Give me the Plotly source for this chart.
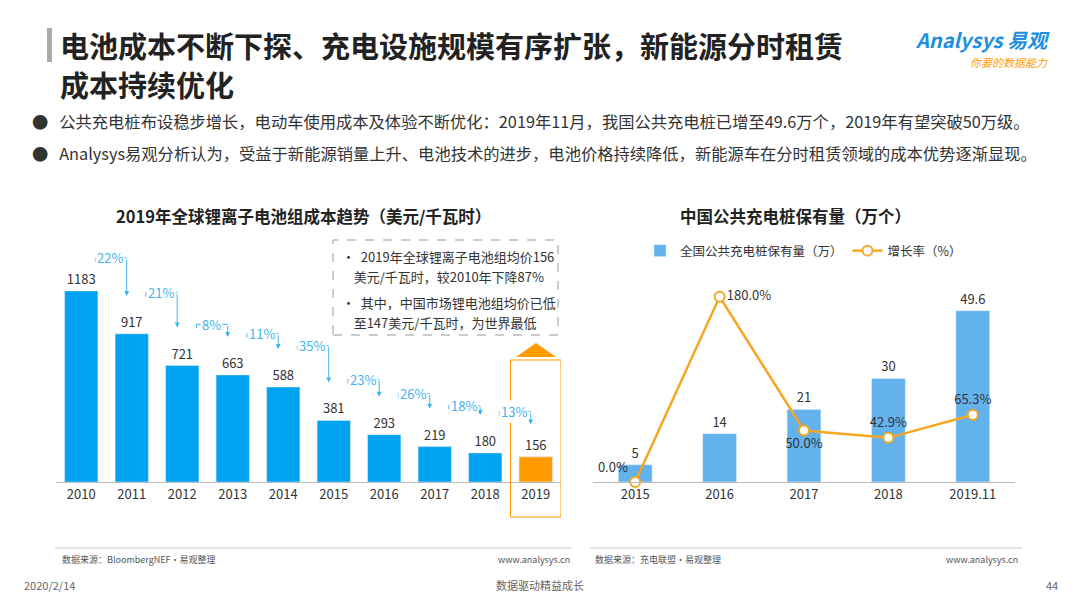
import plotly.graph_objects as go

years = ["2010","2011","2012","2013","2014","2015","2016","2017","2018","2019"]
cost = [1183, 917, 721, 663, 588, 381, 293, 219, 180, 156]
drops = ["22%","21%","8%","11%","35%","23%","26%","18%","13%"]

pile_years = ["2015","2016","2017","2018","2019.11"]
piles = [5, 14, 21, 30, 49.6]
growth = [0.0, 180.0, 50.0, 42.9, 65.3]
growth_pos = ["top left", "middle right", "bottom center", "top center", "top center"]

F = "Noto Sans CJK SC"
fig = go.Figure()
fig.add_bar(x=list(range(10)), y=cost, xaxis="x", yaxis="y",
            marker_color=["#00a3f0"]*9 + ["#ff9a00"], width=0.66,
            text=[str(v) for v in cost], textposition="outside",
            textfont=dict(size=13, color="#333", family=F), cliponaxis=False, showlegend=False)
fig.add_bar(x=pile_years, y=piles, xaxis="x2", yaxis="y2", name="全国公共充电桩保有量（万）",
            marker_color="#63b2ee", width=0.4,
            text=[str(v) for v in piles], textposition="outside",
            textfont=dict(size=13, color="#333", family=F), cliponaxis=False)
fig.add_scatter(x=pile_years, y=growth, xaxis="x2", yaxis="y3", name="增长率（%）",
                mode="lines+markers+text", line=dict(color="#f5a623", width=2.5),
                marker=dict(size=10, color="white", line=dict(color="#f5a623", width=2)),
                text=[f"{g:.1f}%" for g in growth], textposition=growth_pos,
                textfont=dict(size=13, color="#333", family=F), cliponaxis=False)

shapes, anns = [], []
blue = "#3fb3f0"
for i, d in enumerate(drops):
    top = cost[i] + (205 if i == 0 else 255)
    tip = cost[i+1] + (200 if i == 8 else 235)
    shapes.append(dict(type="line", xref="x", yref="y", x0=i+0.28, x1=i+0.9, y0=top, y1=top,
                       line=dict(color=blue, width=1)))
    shapes.append(dict(type="line", xref="x", yref="y", x0=i+0.28, x1=i+0.28, y0=top, y1=top-25,
                       line=dict(color=blue, width=1)))
    anns.append(dict(xref="x", yref="y", x=i+0.9, y=tip, ax=i+0.9, ay=top, axref="x", ayref="y",
                     showarrow=True, arrowhead=2, arrowsize=1, arrowwidth=1, arrowcolor=blue, text=""))
    anns.append(dict(xref="x", yref="y", x=i+0.57, y=top, text=d, showarrow=False, bgcolor="white",
                     font=dict(size=13, color=blue, family=F)))

shapes.append(dict(type="rect", xref="x", yref="paper", x0=8.5, x1=9.5, y0=1-517/608, y1=1-360/608,
                   line=dict(color="#ff9a00", width=1)))
shapes.append(dict(type="path", xref="paper", yref="paper",
                   path=f"M {516/1080} {1-357/608} L {556/1080} {1-357/608} L {536/1080} {1-343/608} Z",
                   fillcolor="#ff9a00", line=dict(width=0)))
shapes.append(dict(type="rect", xref="paper", yref="paper", x0=333/1080, x1=558/1080, y0=1-335/608, y1=1-240/608,
                   line=dict(color="#999", width=1, dash="dash")))

def T(x, y, s, size, color="#333", anchor="left", bold=False):
    anns.append(dict(xref="paper", yref="paper", x=x/1080, y=1-y/608, text=f"<b>{s}</b>" if bold else s,
                     showarrow=False, xanchor=anchor, yanchor="middle", font=dict(size=size, color=color, family=F)))

for y, s in [(256, "•  2019年全球锂离子电池组均价156"), (276, "    美元/千瓦时，较2010年下降87%"),
             (302, "•  其中，中国市场锂电池组均价已低"), (322, "    至147美元/千瓦时，为世界最低")]:
    T(340, y, s, 13)

shapes.append(dict(type="rect", xref="paper", yref="paper", x0=47/1080, x1=52/1080, y0=1-62/608, y1=1-28/608,
                   fillcolor="#aaaaaa", line=dict(width=0)))
T(58, 45, "电池成本不断下探、充电设施规模有序扩张，新能源分时租赁", 29, "#222", bold=True)
T(58, 84, "成本持续优化", 29, "#222", bold=True)
T(30, 121, "●   公共充电桩布设稳步增长，电动车使用成本及体验不断优化：2019年11月，我国公共充电桩已增至49.6万个，2019年有望突破50万级。", 16.3)
T(30, 153, "●   Analysys易观分析认为，受益于新能源销量上升、电池技术的进步，电池价格持续降低，新能源车在分时租赁领域的成本优势逐渐显现。", 16.3)
T(303, 216, "2019年全球锂离子电池组成本趋势（美元/千瓦时）", 16.5, "#222", "center", True)
T(795, 216, "中国公共充电桩保有量（万个）", 16.5, "#222", "center", True)
T(60, 559, "数据来源：BloombergNEF·易观整理", 9, "#555")
T(572, 559, "www.analysys.cn", 9, "#555", "right")
T(593, 559, "数据来源：充电联盟·易观整理", 9, "#555")
T(1020, 559, "www.analysys.cn", 9, "#555", "right")
T(22, 585, "2020/2/14", 11, "#666")
T(540, 585, "数据驱动精益成长", 11, "#666", "center")
T(1060, 585, "44", 11, "#666", "right")
T(1052, 40, "<i>Analysys 易观</i>", 20, "#1e8fe0", "right", True)
T(1050, 62, "<i>你要的数据能力</i>", 11, "#ff9a00", "right")
shapes.append(dict(type="line", xref="paper", yref="paper", x0=55/1080, x1=572/1080, y0=1-548/608, y1=1-548/608,
                   line=dict(color="#ccc", width=1)))
shapes.append(dict(type="line", xref="paper", yref="paper", x0=590/1080, x1=1022/1080, y0=1-548/608, y1=1-548/608,
                   line=dict(color="#ccc", width=1)))

ax = dict(showgrid=False, zeroline=False, ticks="", showline=True, linecolor="#bbb",
          tickfont=dict(size=13, color="#333", family=F))
fig.update_layout(
    width=1080, height=608, margin=dict(l=0, r=0, t=0, b=0), plot_bgcolor="white", paper_bgcolor="white",
    xaxis=dict(ax, domain=[56/1080, 561/1080], tickvals=list(range(10)), ticktext=years, range=[-0.5, 9.5]),
    yaxis=dict(domain=[1-482/608, 1-240/608], range=[0, 1498], visible=False),
    xaxis2=dict(ax, domain=[593/1080, 1015/1080], anchor="y2", type="category"),
    yaxis2=dict(domain=[1-482/608, 1-270/608], range=[0, 61.4], visible=False, anchor="x2"),
    yaxis3=dict(overlaying="y2", range=[0, 206], visible=False, anchor="x2"),
    legend=dict(orientation="h", x=640/1080, y=1-251/608, yanchor="middle", font=dict(size=12.5, family=F, color="#333")),
    shapes=shapes, annotations=anns, bargap=0.3,
)
fig.write_html("out.html", config={"displayModeBar": False},
               post_script="document.body.style.margin='0';document.body.style.padding='0';")
